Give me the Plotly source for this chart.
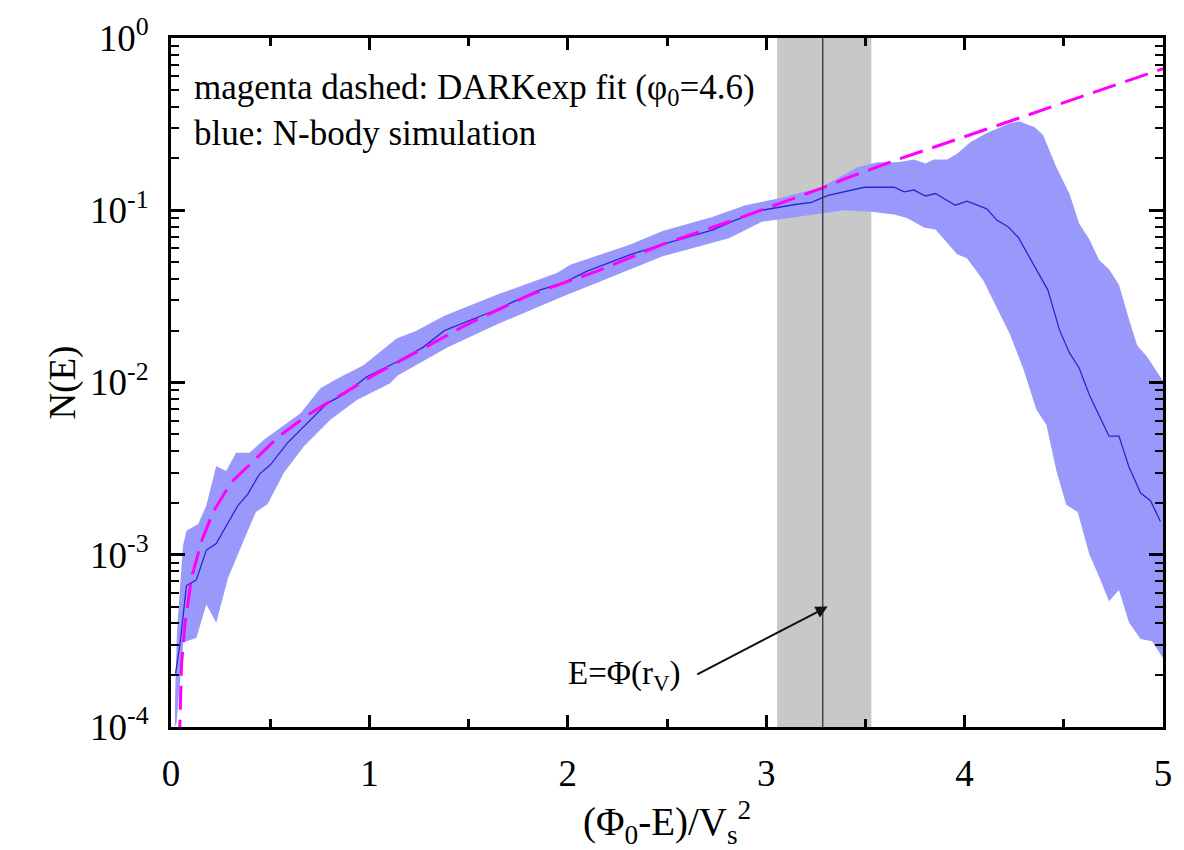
import math
import plotly.graph_objects as go

# ---- data ----
blue_x = [0.023, 0.045, 0.078, 0.128, 0.178, 0.228, 0.337, 0.387, 0.445, 0.503, 0.587, 0.687,
          0.787, 0.878, 0.987, 1.137, 1.27, 1.378, 1.628, 1.845, 1.978, 2.095, 2.312, 2.478,
          2.728, 2.845, 2.978, 3.145, 3.228, 3.312, 3.395, 3.495, 3.645, 3.695, 3.745, 3.803,
          3.853, 3.953, 4.012, 4.112, 4.162, 4.22, 4.27, 4.345, 4.42, 4.478, 4.528, 4.578,
          4.628, 4.678, 4.728, 4.778, 4.828, 4.887, 4.937, 4.987]
blue_y = [2.04e-4, 3.02e-4, 6.61e-4, 7.16e-4, 1.064e-3, 1.16e-3, 1.93e-3, 2.25e-3, 2.93e-3,
          3.35e-3, 4.46e-3, 5.81e-3, 7.57e-3, 8.65e-3, 1.08e-2, 1.315e-2, 1.60e-2, 2.00e-2,
          2.61e-2, 3.40e-2, 3.79e-2, 4.42e-2, 5.51e-2, 6.34e-2, 7.67e-2, 8.77e-2, 0.100, 0.108,
          0.111, 0.122, 0.128, 0.136, 0.136, 0.128, 0.131, 0.121, 0.125, 0.107, 0.113, 0.102,
          0.0877, 0.0800, 0.0697, 0.0490, 0.0344, 0.0202, 0.0149, 0.0121, 0.00851, 0.00644,
          0.00488, 0.00488, 0.00324, 0.00228, 0.00206, 0.00156]

upper_x = [0.02, 0.03, 0.06, 0.078, 0.137, 0.178, 0.228, 0.278, 0.328, 0.395, 0.47, 0.553,
           0.653, 0.753, 0.837, 0.97, 1.137, 1.237, 1.378, 1.645, 1.945, 2.012, 2.312, 2.478,
           2.728, 2.895, 3.062, 3.278, 3.395, 3.462, 3.562, 3.662, 3.745, 3.803, 3.845, 3.912,
           3.962, 4.028, 4.112, 4.228, 4.278, 4.353, 4.395, 4.462, 4.528, 4.578, 4.628, 4.678,
           4.728, 4.778, 4.828, 4.87, 4.92, 4.97, 5.0]
upper_y = [1.41e-4, 3.55e-4, 1.12e-3, 1.38e-3, 1.51e-3, 1.93e-3, 3.27e-3, 3.06e-3, 3.91e-3,
           3.91e-3, 4.66e-3, 5.45e-3, 6.64e-3, 9.25e-3, 1.05e-2, 1.26e-2, 1.80e-2, 2.00e-2,
           2.44e-2, 3.24e-2, 4.32e-2, 4.83e-2, 6.30e-2, 7.57e-2, 9.14e-2, 0.107, 0.117, 0.136,
           0.162, 0.178, 0.190, 0.190, 0.197, 0.187, 0.197, 0.197, 0.213, 0.248, 0.281, 0.320,
           0.328, 0.303, 0.274, 0.178, 0.125, 0.0834, 0.0681, 0.0514, 0.0454, 0.0370, 0.0234,
           0.0164, 0.0141, 0.0115, 0.0102]

lower_x = [0.02, 0.028, 0.062, 0.128, 0.178, 0.228, 0.287, 0.37, 0.428, 0.487, 0.57, 0.67,
           0.803, 0.937, 1.103, 1.145, 1.395, 1.645, 1.978, 2.145, 2.478, 2.812, 2.978, 3.145,
           3.395, 3.528, 3.645, 3.712, 3.795, 3.853, 3.912, 3.962, 4.012, 4.095, 4.162, 4.228,
           4.295, 4.362, 4.412, 4.462, 4.512, 4.57, 4.628, 4.678, 4.728, 4.778, 4.828, 4.887,
           4.945, 5.0]
lower_y = [1.0e-4, 1.05e-4, 3.09e-4, 3.30e-4, 5.14e-4, 4.03e-4, 7.31e-4, 1.24e-3, 1.77e-3,
           1.97e-3, 3.00e-3, 4.27e-3, 6.07e-3, 7.91e-3, 9.86e-3, 1.10e-2, 1.60e-2, 2.18e-2,
           3.17e-2, 3.78e-2, 5.40e-2, 6.87e-2, 8.57e-2, 9.14e-2, 0.100, 0.098, 0.0946, 0.0899,
           0.0793, 0.0773, 0.0647, 0.0556, 0.0527, 0.0390, 0.0273, 0.0191, 0.0121, 6.95e-3,
           5.68e-3, 3.09e-3, 1.95e-3, 1.77e-3, 1.01e-3, 7.46e-4, 5.37e-4, 6.25e-4, 4.06e-4,
           3.24e-4, 3.15e-4, 2.51e-4]

fit_x = [0.042, 0.045, 0.053, 0.07, 0.103, 0.153, 0.212, 0.303, 0.42, 0.545, 0.703, 0.853,
         1.037, 1.237, 1.478, 1.812, 2.145, 2.478, 2.812, 3.062, 3.278, 3.395, 3.645, 3.9,
         4.23, 4.6, 5.0]
fit_y = [8.0e-5, 1.2e-4, 2.32e-4, 3.94e-4, 7.31e-4, 1.19e-3, 1.77e-3, 2.63e-3, 3.57e-3,
         4.88e-3, 6.64e-3, 8.45e-3, 1.13e-2, 1.50e-2, 2.13e-2, 3.24e-2, 4.42e-2, 6.34e-2,
         8.57e-2, 0.109, 0.134, 0.152, 0.194, 0.244, 0.329, 0.460, 0.664]

rv_band = [3.055, 3.53]
rv_line = 3.285
arrow_head = (3.31, 5.0e-4)
arrow_tail = (2.645, 2.0e-4)
label_pos = (2.285, 2.0e-4)

x_ticks = [0, 1, 2, 3, 4, 5]
x_minor = [0.5, 1.5, 2.5, 3.5, 4.5]
y_ticks = [1e-4, 1e-3, 1e-2, 1e-1, 1e0]
y_ticktext = ["10<sup>-4</sup>", "10<sup>-3</sup>", "10<sup>-2</sup>", "10<sup>-1</sup>", "10<sup>0</sup>"]
y_minor = [m * d for d in [1e-4, 1e-3, 1e-2, 1e-1] for m in range(2, 10)]

FONT = "Liberation Serif"

fig = go.Figure()

band_x = upper_x + lower_x[::-1]
band_y = upper_y + lower_y[::-1]
fig.add_trace(go.Scatter(x=band_x, y=band_y, fill="toself", mode="lines",
                         fillcolor="#9999fb", line=dict(width=0, color="#9999fb"),
                         hoverinfo="skip", showlegend=False))
fig.add_trace(go.Scatter(x=blue_x, y=blue_y, mode="lines",
                         line=dict(color="#2828cc", width=1.3), showlegend=False))
fig.add_trace(go.Scatter(x=fit_x, y=fit_y, mode="lines",
                         line=dict(color="#ff00ff", width=3, dash="24px,10px"),
                         showlegend=False))

fig.add_shape(type="rect", xref="x", yref="paper", x0=rv_band[0], x1=rv_band[1], y0=0, y1=1,
              fillcolor="#c8c8c8", line=dict(width=0), layer="below")
fig.add_shape(type="line", xref="x", yref="paper", x0=rv_line, x1=rv_line, y0=0, y1=1,
              line=dict(color="#333333", width=1.3), layer="above")

fig.add_annotation(x=arrow_head[0], y=math.log10(arrow_head[1]),
                   ax=arrow_tail[0], ay=math.log10(arrow_tail[1]),
                   axref="x", ayref="y", xref="x", yref="y",
                   showarrow=True, arrowhead=2, arrowsize=1.2, arrowwidth=2,
                   arrowcolor="#111111", text="")
fig.add_annotation(x=label_pos[0], y=math.log10(label_pos[1]), xref="x", yref="y",
                   text="E=Φ(r<sub>V</sub>)", showarrow=False,
                   font=dict(family=FONT, size=33, color="black"))

fig.add_annotation(x=0.021, y=0.925, xref="paper", yref="paper", xanchor="left",
                   yanchor="middle", showarrow=False,
                   text="magenta dashed: DARKexp fit (φ<sub>0</sub>=4.6)",
                   font=dict(family=FONT, size=35, color="black"))
fig.add_annotation(x=0.021, y=0.862, xref="paper", yref="paper", xanchor="left",
                   yanchor="middle", showarrow=False,
                   text="blue: N-body simulation",
                   font=dict(family=FONT, size=35, color="black"))

fig.add_annotation(x=-0.133, y=0.5, xref="paper", yref="paper", textangle=-90,
                   showarrow=False, text="N(E)",
                   font=dict(family=FONT, size=37, color="black"))
fig.add_annotation(x=0.5, y=-0.139, xref="paper", yref="paper", yanchor="middle",
                   showarrow=False, text="(Φ<sub>0</sub>-E)/V<sub>s</sub><sup>2</sup>",
                   font=dict(family=FONT, size=39, color="black"))

fig.update_xaxes(range=[0, 5], tickvals=x_ticks, ticktext=[str(v) for v in x_ticks],
                 ticks="inside", ticklen=12, tickwidth=2.5, tickcolor="black",
                 minor=dict(tickvals=x_minor, ticks="inside", ticklen=8, tickwidth=2.5,
                            tickcolor="black"),
                 showline=True, linecolor="black", linewidth=3, mirror="allticks",
                 showgrid=False, zeroline=False, ticklabelstandoff=12,
                 tickfont=dict(family=FONT, size=37, color="black"))
fig.update_yaxes(type="log", range=[-4, 0], tickvals=y_ticks, ticktext=y_ticktext,
                 ticks="inside", ticklen=14, tickwidth=2.5, tickcolor="black",
                 minor=dict(tickvals=y_minor, ticks="inside", ticklen=8, tickwidth=2,
                            tickcolor="black"),
                 showline=True, linecolor="black", linewidth=3, mirror="allticks",
                 showgrid=False, zeroline=False, ticklabelstandoff=12,
                 tickfont=dict(family=FONT, size=37, color="black"))

fig.update_layout(width=1184, height=850, margin=dict(l=171, r=14, t=35, b=123),
                  paper_bgcolor="white", plot_bgcolor="white", showlegend=False)

fig.write_html("out.html")
